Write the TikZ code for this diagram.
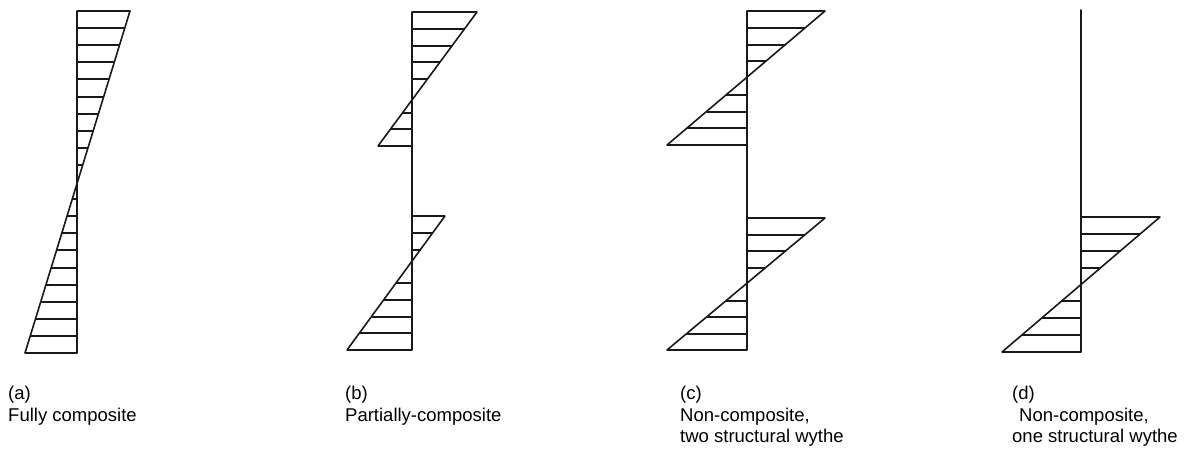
\documentclass[tikz,border=0pt]{standalone}
\usepackage{fontspec}
\setmainfont{Liberation Sans}
\tikzset{
  wall/.style={line width=1.6pt, color=black!90, line cap=round, line join=round},
  hatchline/.style={line width=1.6pt, color=black!90},
  lbl/.style={anchor=base west, inner sep=0pt, text=black, font=\fontsize{18.5}{22}\selectfont},
}
% #1 wall x, #2 top y, #3 bottom y, #4 width at top, #5 width at bottom, #6 segments, #7 skipped line
\newcommand{\stressblock}[7]{%
  \draw[wall] ({#1+#4},#2) -- ({#1+#5},#3);
  \foreach \k in {0,...,#6}{%
    \ifnum\k=#7\else
      \draw[hatchline] (#1,{round(#2+(#3-#2)*\k/#6)}) -- ({#1+#4+(#5-#4)*\k/#6},{round(#2+(#3-#2)*\k/#6)});
    \fi
  }%
}
\begin{document}
\begin{tikzpicture}[x=1pt,y=-1pt]
\useasboundingbox (0,0) rectangle (1184,450);

% (a) fully composite
\draw[wall] (77,11) -- (77,353);
\stressblock{77}{11}{353}{53}{-52}{20}{10}

% (b) partially composite
\draw[wall] (412,12) -- (412,350);
\stressblock{412}{12}{146}{65}{-34}{8}{5}
\stressblock{412}{216}{350}{33}{-65}{8}{3}

% (c) non-composite, two structural wythe
\draw[wall] (747,11) -- (747,350);
\stressblock{747}{11}{145}{78}{-80}{8}{4}
\stressblock{747}{218}{350}{78}{-80}{8}{4}

% (d) non-composite, one structural wythe
\draw[wall] (1081,10) -- (1081,352);
\stressblock{1081}{217}{352}{79}{-79}{8}{4}

% labels
\node[lbl] (la1) at (8,399) {(a)};
\node[lbl] (la2) at (8,421) {Fully composite};
\node[lbl] (lb1) at (345,399) {(b)};
\node[lbl] (lb2) at (345,421) {Partially-composite};
\node[lbl] (lc1) at (680,399) {(c)};
\node[lbl] (lc2) at (680,421) {Non-composite,};
\node[lbl] (lc3) at (680,442) {two structural wythe};
\node[lbl] (ld1) at (1012,399) {(d)};
\node[lbl] (ld2) at (1019,421) {Non-composite,};
\node[lbl] (ld3) at (1012,442) {one structural wythe};
\end{tikzpicture}
\end{document}
